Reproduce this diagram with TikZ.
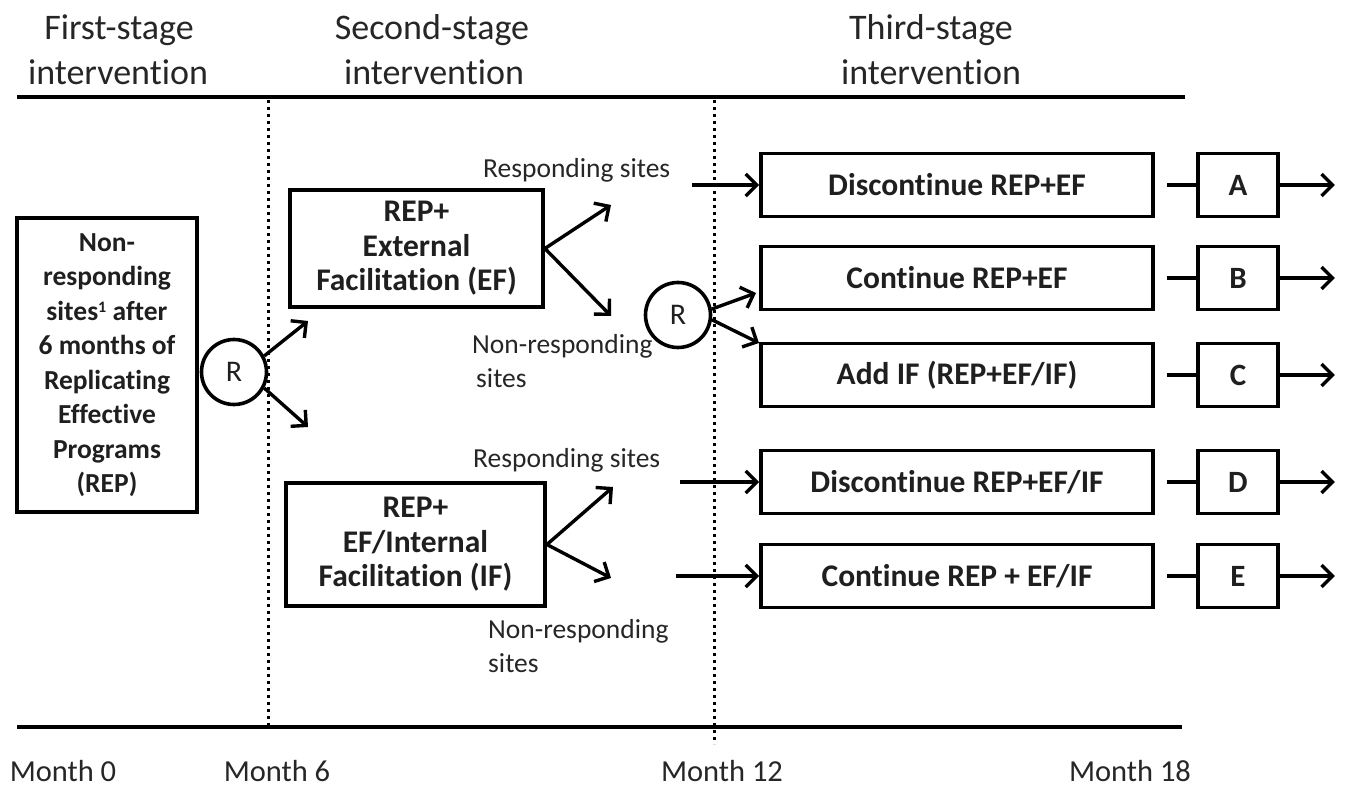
\documentclass[tikz,border=0pt]{standalone}
\usepackage{fontspec}
\setmainfont[Ligatures={NoCommon}]{Carlito}
\usetikzlibrary{arrows.meta}
\begin{document}
\begin{tikzpicture}[x=1pt,y=-1pt,
  rule/.style={line width=4.2pt},
  dotline/.style={line width=3pt, dash pattern=on 3pt off 4pt},
  ln/.style={line width=3.6pt},
  arr/.style={line width=3.4pt, -{Straight Barb[length=11pt,width=22pt]}},
  box/.style={draw, line width=3.8pt, inner sep=0pt, align=center, text=black!88,
              font=\bfseries\fontsize{31.5}{34.5}\selectfont},
  stagebox/.style={box, minimum width=392pt, minimum height=63pt},
  letterbox/.style={box, minimum width=80pt, minimum height=63pt, font=\bfseries\fontsize{31}{32}\selectfont},
  circ/.style={draw, circle, line width=3.6pt, minimum size=65pt, inner sep=0pt, text=black!88,
               font=\fontsize{30}{32}\selectfont},
  hdr/.style={inner sep=0pt, text=black!85, font=\fontsize{36}{40}\selectfont},
  lbl/.style={inner sep=0pt, text=black!85, align=left, font=\fontsize{27.5}{34}\selectfont},
  mon/.style={inner sep=0pt, text=black!85, font=\fontsize{30.5}{32}\selectfont}
]
\useasboundingbox (0,0) rectangle (1353,789);

% headers
\node[hdr] (h1a) at (119,30) {First-stage};
\node[hdr] (h1b) at (118,72) {intervention};
\node[hdr] (h2a) at (432,30) {Second-stage};
\node[hdr] (h2b) at (434,72) {intervention};
\node[hdr] (h3a) at (931,30) {Third-stage};
\node[hdr] (h3b) at (931,72) {intervention};

% time axis lines
\coordinate (tl) at (17,97);
\coordinate (tr) at (1185,97);
\coordinate (bl) at (17,727);
\coordinate (br) at (1182,727);
\draw[rule] (tl) -- (tr);
\draw[rule] (bl) -- (br);
\coordinate (d1t) at (268,100);
\coordinate (d1b) at (268,727);
\coordinate (d2t) at (714,100);
\coordinate (d2b) at (714,744);
\draw[dotline] (d1t) -- (d1b);
\draw[dotline] (d2t) -- (d2b);

% months
\node[mon] (m0) at (63,771) {Month 0};
\node[mon] (m6) at (277,771) {Month 6};
\node[mon] (m12) at (722,771) {Month 12};
\node[mon] (m18) at (1130,771) {Month 18};

% first stage
\node[box, minimum width=180pt, minimum height=294pt, font=\bfseries\fontsize{27.5}{34.5}\selectfont]
  (start) at (107,365) {Non-\\responding\\sites{\fontsize{16}{16}\selectfont\raisebox{8pt}{1}} after\\6 months of\\Replicating\\Effective\\Programs\\(REP)};
\node[circ] (r1) at (234,372) {R};
\coordinate (r1up) at (308,321);
\coordinate (r1dn) at (308,427);
\draw[arr] (r1.28) -- (r1up);
\draw[arr] (r1.-28) -- (r1dn);

% second stage
\node[box, minimum width=253pt, minimum height=117pt] (ef) at (416.5,248.5) {REP+\\External\\Facilitation (EF)};
\node[box, minimum width=259pt, minimum height=123pt] (efif) at (415.5,544.5) {REP+\\EF/Internal\\Facilitation (IF)};

\coordinate (efup) at (611,205);
\coordinate (efdn) at (611,316);
\draw[arr] (ef.east) -- (efup);
\draw[arr] (ef.east) -- (efdn);
\coordinate (ifup) at (613,487);
\coordinate (ifdn) at (611,578);
\draw[arr] (efif.east) -- (ifup);
\draw[arr] (efif.east) -- (ifdn);

\node[lbl, anchor=west] (rs1) at (483,170) {Responding sites};
\node[lbl, anchor=west] (nr1) at (472,361) {Non-responding\\\hspace*{4pt}sites};
\node[lbl, anchor=west] (rs2) at (473,460) {Responding sites};
\node[lbl, anchor=west] (nr2) at (488,646) {Non-responding\\sites};

\node[circ] (r2) at (678,315) {R};

% third stage
\node[stagebox] (a3) at (957,185) {Discontinue REP+EF};
\node[stagebox] (b3) at (957,278) {Continue REP+EF};
\node[stagebox] (c3) at (957,375) {Add IF (REP+EF/IF)};
\node[stagebox] (d3) at (957,482) {Discontinue REP+EF/IF};
\node[stagebox] (e3) at (957,576) {Continue REP + EF/IF};

\coordinate (s1) at (692,185);
\coordinate (s2) at (680,482);
\coordinate (s3) at (676,576);
\draw[arr] (s1) -- (a3.west);
\draw[arr] (s2) -- (d3.west);
\draw[arr] (s3) -- (e3.west);
\coordinate (r2up) at (756,293);
\coordinate (r2dn) at (759,343);
\draw[arr] (r2.10) -- (r2up);
\draw[arr] (r2.-8) -- (r2dn);

% outcome letters
\foreach \n/\t/\y in {la/A/185, lb/B/278, lc/C/375, ld/D/482, le/E/576}{
  \node[letterbox] (\n) at (1238,\y) {\t};
}
\foreach \s/\n in {a3/la, b3/lb, c3/lc, d3/ld, e3/le}{
  \draw[ln] ([xshift=12pt]\s.east) -- (\n.west);
  \coordinate (\n out) at ([xshift=55pt]\n.east);
  \draw[arr] (\n.east) -- (\n out);
}
\end{tikzpicture}
\end{document}
